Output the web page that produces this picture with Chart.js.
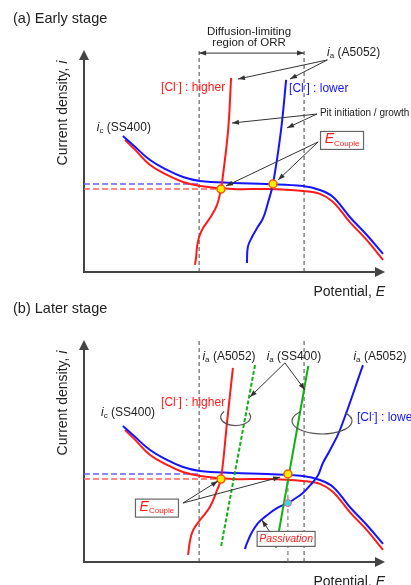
<!DOCTYPE html>
<html>
<head>
<meta charset="utf-8">
<script src="https://cdn.jsdelivr.net/npm/chart.js@4/dist/chart.umd.min.js"></script>
<style>
  body { margin: 0; background: #fff; }
  .wrap { position: relative; width: 411px; height: 585px; overflow: hidden; }
  canvas { position: absolute; left: 0; }
  #early { top: 0; }
  #later { top: 290px; }
</style>
</head>
<body>
<div class="wrap">
  <canvas id="early" width="411" height="300"></canvas>
  <canvas id="later" width="411" height="295"></canvas>
</div>
<script>
// E (x) and i (y) in arbitrary units, 0-100 on both axes

// cathodic ORR curves of SS400, same in both stages
const cathodicBlue = [[13.0,61.8],[16.4,57.7],[22.1,50.9],[27.8,46.4],[33.1,43.2],[38.8,41.4],[49.8,40.5],[61.2,40.0],[73.2,39.1],[78.9,37.3],[83.3,34.1],[88.9,25.0],[94.6,16.8],[100,8.2]];
const cathodicRed = [[13.7,60.0],[17.1,55.5],[22.1,48.6],[27.8,44.1],[33.1,40.9],[38.8,39.1],[49.8,37.7],[61.2,37.7],[73.2,36.8],[78.9,35.5],[83.3,31.8],[88.9,22.7],[94.6,14.5],[100,5.5]];

// early stage anodic curves of A5052
const anodicRedA = [[49.2,88.2],[48.2,64.5],[46.2,40.9],[45.8,37.7],[44.5,30.5],[42.1,24.5],[39.8,20.0],[38.5,15.9],[37.8,11.4],[37.5,6.8],[37.1,3.2]];
const anodicBlueA = [[67.6,87.3],[65.9,64.5],[63.2,40.0],[61.5,31.4],[59.9,24.5],[57.9,20.0],[56.2,15.9],[54.8,11.4],[54.5,4.1]];
const coupleA = [[45.8,37.7],[63.2,40.0]];

// later stage: A5052 anodic curves and SS400 anodic lines
const anodicRedB = [[49.8,88.2],[47.8,63.0],[45.8,37.7],[44.5,32.7],[42.1,25.0],[38.8,19.1],[36.5,14.5],[35.5,10.0],[34.8,3.2]];
const anodicBlueB = [[93.3,89.5],[85.6,60.0],[82.3,50.9],[79.9,45.0],[78.3,39.5],[76.3,35.9],[73.2,31.4],[69.9,28.2],[68.2,26.8],[64.5,24.5],[60.5,20.5],[58.2,17.7],[56.2,13.6],[54.5,8.6],[53.8,5.9]];
const ssDashed = [[57.2,89.5],[45.8,6.8]];
const ssSolid = [[75.0,89.1],[64.2,6.4]];
const coupleB = [[45.8,37.7],[68.2,40.0]];
const passivePoint = [[68.2,26.8]];

// limits of the diffusion-limited ORR region
const orrBounds = [38.5, 73.6];

const FONT = '"Liberation Sans", Arial, sans-serif';
const RED = '#ff1a1a', BLUE = '#1414ff', GREEN = '#12b012', INK = '#222';

function xy(pts) { return pts.map(p => ({ x: p[0], y: p[1] })); }

function curve(pts, color, extra) {
  return Object.assign({
    data: xy(pts), showLine: true, borderColor: color, borderWidth: 2,
    pointRadius: 0, tension: 0.4, clip: false, fill: false
  }, extra || {});
}

function dashed(pts, color, width, dash) {
  return curve(pts, color, { borderWidth: width, borderDash: dash, tension: 0 });
}

function dots(pts, fill, stroke, r, bw) {
  return {
    data: xy(pts), showLine: false, pointRadius: r, pointBackgroundColor: fill,
    pointBorderColor: stroke, pointBorderWidth: bw || 1.5, clip: false
  };
}

function vline(x, y0, y1) { return [[x, y0], [x, y1]]; }

// drawing helpers for axes and notes
function head(ctx, x1, y1, x2, y2, len, wid) {
  const a = Math.atan2(y2 - y1, x2 - x1);
  const bx = x2 - len * Math.cos(a), by = y2 - len * Math.sin(a);
  ctx.beginPath();
  ctx.moveTo(x2, y2);
  ctx.lineTo(bx + wid / 2 * Math.sin(a), by - wid / 2 * Math.cos(a));
  ctx.lineTo(bx - wid / 2 * Math.sin(a), by + wid / 2 * Math.cos(a));
  ctx.closePath();
  ctx.fill();
}

function arrow(ctx, from, to, both) {
  ctx.save();
  ctx.strokeStyle = ctx.fillStyle = '#333';
  ctx.lineWidth = 1;
  ctx.beginPath();
  ctx.moveTo(from[0], from[1]);
  ctx.lineTo(to[0], to[1]);
  ctx.stroke();
  head(ctx, from[0], from[1], to[0], to[1], 7, 5);
  if (both) head(ctx, to[0], to[1], from[0], from[1], 7, 5);
  ctx.restore();
}

function runs(ctx, parts, x, y, align) {
  let w = 0;
  parts.forEach(p => { ctx.font = p.font; p.w = ctx.measureText(p.t).width; w += p.w; });
  let cx = align === 'center' ? x - w / 2 : align === 'right' ? x - w : x;
  ctx.textBaseline = 'middle';
  ctx.textAlign = 'left';
  parts.forEach(p => {
    ctx.font = p.font;
    ctx.fillStyle = p.color || INK;
    ctx.fillText(p.t, cx, y + (p.dy || 0));
    cx += p.w;
  });
}

function f(size, style) { return (style ? style + ' ' : '') + size + 'px ' + FONT; }

function current(sub, rest) {
  return [
    { t: 'i', font: f(12, 'italic') },
    { t: sub, font: f(8), dy: 3 },
    { t: ' ' + rest, font: f(12) }
  ];
}

function chloride(word, color) {
  return [
    { t: '[Cl', font: f(12), color },
    { t: '-', font: f(8), dy: -4, color },
    { t: '] : ' + word, font: f(12), color }
  ];
}

function box(ctx, cx, cy, w, h) {
  ctx.save();
  ctx.fillStyle = '#fff';
  ctx.strokeStyle = '#666';
  ctx.lineWidth = 1.2;
  ctx.fillRect(cx - w / 2, cy - h / 2, w, h);
  ctx.strokeRect(cx - w / 2, cy - h / 2, w, h);
  ctx.restore();
}

function coupleLabel(ctx, c) {
  box(ctx, c[0], c[1], 43, 18);
  runs(ctx, [
    { t: 'E', font: f(14, 'italic'), color: RED },
    { t: 'Couple', font: f(8), dy: 4, color: RED }
  ], c[0], c[1] - 1, 'center');
}

function lasso(ctx, c, rx, ry, a0, a1) {
  ctx.save();
  ctx.strokeStyle = '#555';
  ctx.lineWidth = 1.2;
  ctx.beginPath();
  ctx.ellipse(c[0], c[1], rx, ry, 0, a0 * Math.PI / 180, a1 * Math.PI / 180);
  ctx.stroke();
  ctx.restore();
}

const frame = {
  id: 'frame',
  beforeDatasetsDraw(chart) {
    const { ctx, chartArea: a } = chart;
    ctx.save();
    ctx.strokeStyle = ctx.fillStyle = '#444';
    ctx.lineWidth = 2;
    ctx.beginPath();
    ctx.moveTo(a.left, a.top + 6);
    ctx.lineTo(a.left, a.bottom);
    ctx.lineTo(a.right - 6, a.bottom);
    ctx.stroke();
    head(ctx, a.left, a.bottom, a.left, a.top - 2, 10, 10);
    head(ctx, a.left, a.bottom, a.right + 2, a.bottom, 10, 10);
    ctx.restore();
  },
  afterDatasetsDraw(chart, args, opts) {
    const { ctx, chartArea: a } = chart;
    const P = (x, y) => [chart.scales.x.getPixelForValue(x), chart.scales.y.getPixelForValue(y)];
    runs(ctx, [{ t: opts.title, font: f(14.5) }], 13, 19, 'left');
    ctx.save();
    ctx.translate(63, 113);
    ctx.rotate(-Math.PI / 2);
    runs(ctx, [{ t: 'Current density, ', font: f(14) }, { t: 'i', font: f(14, 'italic') }], 0, 0, 'center');
    ctx.restore();
    runs(ctx, [{ t: 'Potential, ', font: f(14) }, { t: 'E', font: f(14, 'italic') }], 385, a.bottom + 20, 'right');
    opts.notes(ctx, P);
  }
};

function panel(id, datasets, title, notes) {
  return new Chart(document.getElementById(id), {
    type: 'scatter',
    data: { datasets },
    options: {
      responsive: false,
      animation: false,
      events: [],
      layout: { padding: { left: 84, right: 28, top: 52, bottom: id === 'early' ? 28 : 23 } },
      scales: {
        x: { type: 'linear', min: 0, max: 100, display: false },
        y: { type: 'linear', min: 0, max: 100, display: false }
      },
      plugins: {
        legend: { display: false },
        tooltip: { enabled: false },
        frame: { title, notes }
      }
    },
    plugins: [frame]
  });
}

// (a) early stage
panel('early', [
  dots(coupleA, '#ffee00', '#ff5a00', 4),
  curve(anodicRedA, RED),
  curve(anodicBlueA, BLUE),
  curve(cathodicBlue, BLUE),
  curve(cathodicRed, RED),
  dashed([[0, coupleA[1][1]], [orrBounds[0], coupleA[1][1]]], '#6060ff', 1.5, [6, 3]),
  dashed([[0, coupleA[0][1]], coupleA[0]], '#ff6060', 1.5, [6, 3]),
  dashed(vline(orrBounds[0], 0, 101), '#444', 1, [4, 3]),
  dashed(vline(orrBounds[1], 0, 101), '#444', 1, [4, 3])
], '(a) Early stage', (ctx, P) => {
  arrow(ctx, P(orrBounds[0], 99.5), P(orrBounds[1], 99.5), true);
  runs(ctx, [{ t: 'Diffusion-limiting', font: f(11.5) }], ...P(55.2, 109.1), 'center');
  runs(ctx, [{ t: 'region of ORR', font: f(11.5) }], ...P(55.2, 104.1), 'center');
  runs(ctx, current('a', '(A5052)'), ...P(81.3, 99.5), 'left');
  arrow(ctx, P(81.4, 96.4), P(51.5, 87.7));
  arrow(ctx, P(81.4, 96.4), P(68.9, 87.7));
  runs(ctx, chloride('higher', RED), ...P(47.2, 83.6), 'right');
  runs(ctx, chloride('lower', BLUE), ...P(68.6, 83.2), 'left');
  runs(ctx, [{ t: 'Pit initiation / growth', font: f(10) }], ...P(78.9, 72.3), 'left');
  arrow(ctx, P(77.9, 71.8), P(49.5, 67.7));
  arrow(ctx, P(77.9, 71.8), P(67.9, 65.5));
  arrow(ctx, P(78.3, 59.1), P(47.5, 39.1));
  arrow(ctx, P(78.3, 59.1), P(64.9, 41.8));
  coupleLabel(ctx, P(86.3, 59.8));
  runs(ctx, current('c', '(SS400)'), ...P(4.3, 65.5), 'left');
});

// (b) later stage
panel('later', [
  dots(passivePoint, '#33dddd', '#ff5a8a', 3.5, 1),
  dots(coupleB, '#ffee00', '#ff5a00', 4),
  curve(ssSolid, GREEN, { tension: 0 }),
  curve(ssDashed, GREEN, { tension: 0, borderDash: [4, 2] }),
  curve(anodicRedB, RED),
  curve(anodicBlueB, BLUE),
  curve(cathodicBlue, BLUE),
  curve(cathodicRed, RED),
  dashed([[0, coupleB[1][1]], [orrBounds[0], coupleB[1][1]]], '#6060ff', 1.5, [6, 3]),
  dashed([[0, coupleB[0][1]], coupleB[0]], '#ff6060', 1.5, [6, 3]),
  dashed(vline(coupleB[1][0], 0, coupleB[1][1]), '#666', 1, [4, 3]),
  dashed(vline(orrBounds[0], 0, 101.4), '#444', 1, [4, 3]),
  dashed(vline(orrBounds[1], 0, 101.4), '#444', 1, [4, 3])
], '(b) Later stage', (ctx, P) => {
  runs(ctx, current('a', '(A5052)'), ...P(48.5, 93.2), 'center');
  runs(ctx, current('a', '(SS400)'), ...P(70.2, 93.2), 'center');
  runs(ctx, current('a', '(A5052)'), ...P(99.0, 93.2), 'center');
  arrow(ctx, P(67.2, 90.5), P(55.5, 75.0));
  arrow(ctx, P(67.2, 90.5), P(73.9, 78.2));
  runs(ctx, chloride('higher', RED), ...P(47.2, 72.3), 'right');
  runs(ctx, chloride('lower', BLUE), ...P(91.3, 65.5), 'left');
  lasso(ctx, P(50.7, 65.9), 15, 8.5, 332, 220);
  lasso(ctx, P(79.6, 64.1), 30, 13, 320, 225);
  runs(ctx, current('c', '(SS400)'), ...P(5.7, 67.7), 'left');
  arrow(ctx, P(33.1, 26.8), P(44.8, 36.8));
  arrow(ctx, P(33.1, 26.8), P(65.6, 38.6));
  coupleLabel(ctx, P(24.4, 24.5));
  arrow(ctx, P(62.2, 13.6), P(59.5, 19.1));
  const c = P(67.6, 10.5);
  box(ctx, c[0], c[1], 58, 15);
  runs(ctx, [{ t: 'Passivation', font: f(10.5, 'italic'), color: RED }], c[0], c[1], 'center');
});
</script>
</body>
</html>
